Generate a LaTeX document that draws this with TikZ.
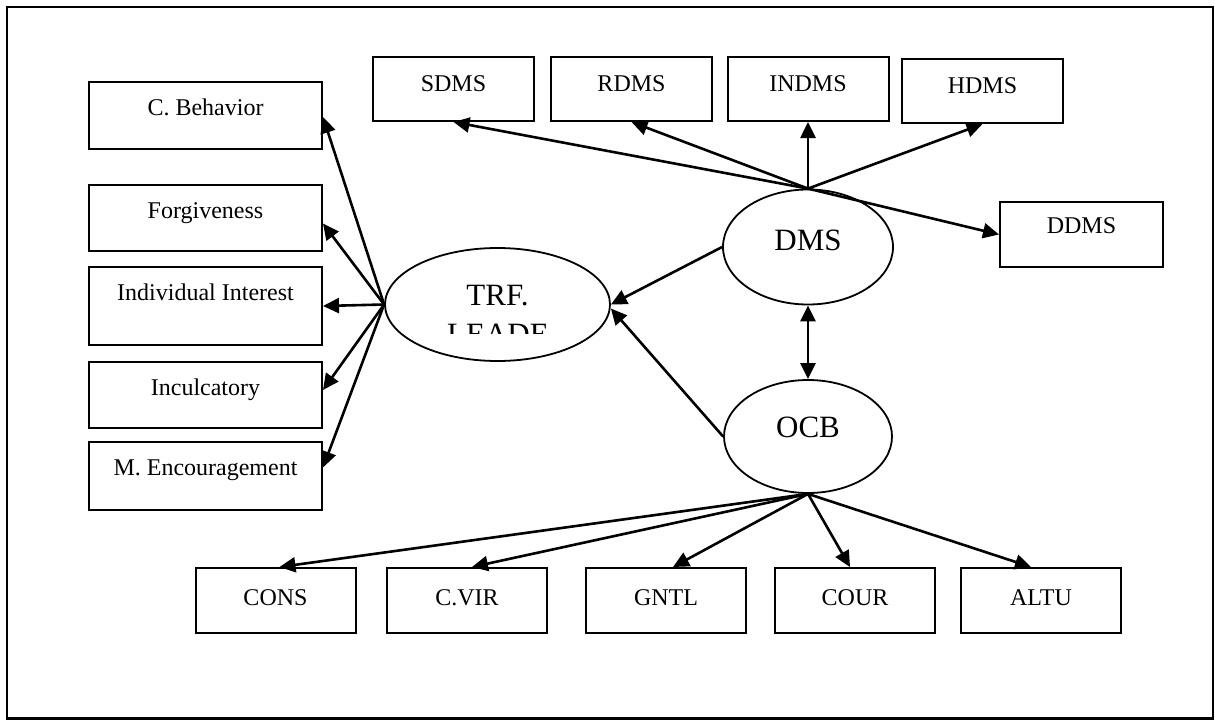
\documentclass[tikz,border=0pt]{standalone}
\usepackage{fontspec}
\setmainfont{Liberation Serif}
\usetikzlibrary{arrows.meta,shapes.geometric}
\begin{document}
\begin{tikzpicture}[x=1pt,y=-1pt,
  arr/.style={line width=2.6pt,-{Triangle[length=16pt 0,width=15pt 0]}},
  dblarr/.style={line width=2.6pt,{Triangle[length=16pt 0,width=15pt 0]}-{Triangle[length=16pt 0,width=15pt 0]}},
  boxbase/.style={draw,line width=2pt,rectangle,inner xsep=0pt,inner ysep=0pt,anchor=base,
    font=\fontsize{24}{28}\selectfont},
  lbox/.style={boxbase,minimum width=233pt,text height=33pt},
  tbox/.style={boxbase,minimum width=161pt,text height=34pt,text depth=30pt},
  bbox/.style={boxbase,minimum width=160pt,text height=37pt,text depth=28pt},
  ell/.style={draw,ellipse,line width=1.8pt,inner sep=0pt,font=\fontsize{31}{36}\selectfont}
]
\useasboundingbox (0,0) rectangle (1215,720);
\fill[white] (0,0) rectangle (1215,720);
\draw[line width=2.5pt] (7,7) rectangle (1213,718.5);

% left boxes
\node[lbox,text depth=34pt] (cb) at (205.5,115) {C. Behavior};
\node[lbox,text depth=33pt] (fg) at (205.5,218) {Forgiveness};
\node[lbox,text depth=45pt] (ii) at (205.5,300) {Individual Interest};
\node[lbox,text depth=33pt] (ic) at (205.5,395) {Inculcatory};
\node[lbox,text depth=35pt] (me) at (205.5,475) {M. Encouragement};

% top boxes
\node[tbox] (sdms) at (453.5,91) {SDMS};
\node[tbox] (rdms) at (631.5,91) {RDMS};
\node[tbox] (indms) at (808,91) {INDMS};
\node[tbox] (hdms) at (982.5,93) {HDMS};
\node[boxbase,minimum width=163pt,text height=31pt,text depth=34pt] (ddms) at (1081.5,233) {DDMS};

% bottom boxes
\node[bbox] (cons) at (275.5,605) {CONS};
\node[bbox] (cvir) at (467,605) {C.VIR};
\node[bbox] (gntl) at (666,605) {GNTL};
\node[bbox] (cour) at (855,605) {COUR};
\node[bbox] (altu) at (1041,605) {ALTU};

% ellipses
\node[ell,minimum width=225pt,minimum height=113pt] (trf) at (497.5,304.5) {};
\node[ell,minimum width=170pt,minimum height=115pt,text depth=14pt] (dms) at (808,247) {DMS};
\node[ell,minimum width=168pt,minimum height=113pt,text depth=18pt] (ocb) at (808,436.5) {OCB};

\begin{scope}
  \clip (380,250) rectangle (615,333);
  \node[font=\fontsize{31}{36}\selectfont,anchor=base,inner sep=0pt] (trft1) at (497.5,305) {TRF.};
  \node[font=\fontsize{31}{36}\selectfont,anchor=base,inner sep=0pt] (trft2) at (498,344) {LEADE};
\end{scope}

% TRF fan to left boxes
\draw[arr] (trf.west) -- ([yshift=-1.5pt]cb.east);
\draw[arr] (trf.west) -- ([yshift=-5.5pt]fg.east);
\draw[arr] (trf.west) -- (ii.east);
\draw[arr] (trf.west) -- ([yshift=5pt]ic.east);
\draw[arr] (trf.west) -- ([yshift=8.5pt]me.east);

% DMS fan to top boxes
\draw[arr] (dms.north) -- (sdms.south);
\draw[arr] (dms.north) -- (rdms.south);
\draw[arr] (dms.north) -- (indms.south);
\draw[arr] (dms.north) -- (hdms.south);
\draw[arr] (dms.north) -- (ddms.west);

% to TRF
\draw[arr] (dms.west) -- (trf.east);
\draw[arr] (ocb.west) -- ([yshift=-4pt]trf.east);

% DMS <-> OCB
\draw[dblarr] (dms.south) -- (ocb.north);

% OCB fan to bottom boxes
\draw[arr] (ocb.south) -- ([xshift=4pt]cons.north);
\draw[arr] (ocb.south) -- ([xshift=5pt]cvir.north);
\draw[arr] (ocb.south) -- ([xshift=7pt]gntl.north);
\draw[arr] (ocb.south) -- ([xshift=-5pt]cour.north);
\draw[arr] (ocb.south) -- ([xshift=-10pt]altu.north);
\end{tikzpicture}
\end{document}
